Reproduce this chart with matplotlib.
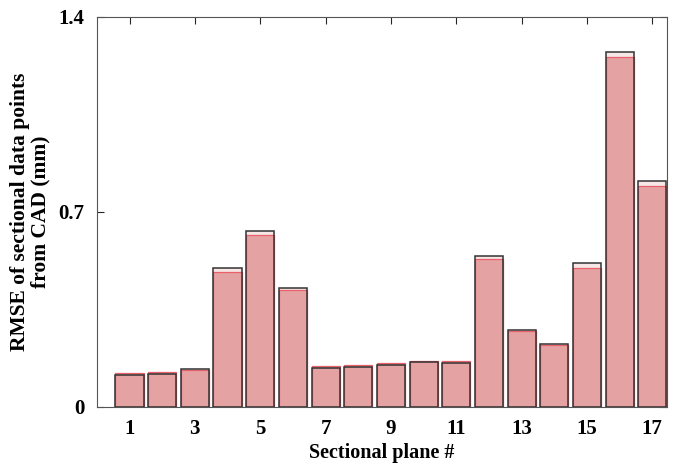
import numpy as np
import matplotlib.pyplot as plt

plt.rcParams['font.family'] = ['Liberation Serif', 'DejaVu Serif']
plt.rcParams['font.weight'] = 'bold'

# Sectional planes and RMSE values (mm)
planes = np.arange(1, 18)
rmse_a = [0.115, 0.117, 0.135, 0.498, 0.632, 0.426, 0.139, 0.142, 0.151,
          0.162, 0.157, 0.540, 0.274, 0.226, 0.516, 1.272, 0.812]
rmse_b = [0.121, 0.124, 0.133, 0.483, 0.617, 0.420, 0.145, 0.151, 0.157,
          0.165, 0.165, 0.530, 0.272, 0.222, 0.498, 1.257, 0.791]
xtick_vals = [1, 3, 5, 7, 9, 11, 13, 15, 17]
ytick_vals = [0, 0.7, 1.4]
ytick_labels = ['0', '0.7', '1.4']

fig = plt.figure(figsize=(6.82, 4.66), dpi=100)
ax = fig.add_axes([0.142, 0.127, 0.836, 0.837])

w = 0.86
ax.bar(planes, rmse_a, width=w, color='#F6E6E6', edgecolor='none', zorder=2)
ax.bar(planes, rmse_b, width=w, color='#E5A2A2', edgecolor='#E8606A',
       linewidth=0.9, zorder=3)
ax.bar(planes, rmse_a, width=w, fill=False, edgecolor='#333333',
       linewidth=1.1, zorder=4)

ax.set_xlim(0, 17.45)
ax.set_ylim(0, 1.4)
ax.set_xticks(xtick_vals)
ax.set_yticks(ytick_vals)
ax.set_yticklabels(ytick_labels)
ax.tick_params(direction='in', top=True, right=True, labelsize=15,
               length=5, width=0.8, colors='#262626', pad=9)
for lbl in ax.get_xticklabels() + ax.get_yticklabels():
    lbl.set_color('black')
for s in ax.spines.values():
    s.set_color('#555555')
    s.set_linewidth(0.8)

ax.set_xlabel('Sectional plane #', fontsize=14.5, fontweight='bold', labelpad=3)
ax.set_ylabel('RMSE of sectional data points\nfrom CAD (mm)', fontsize=15.5,
              fontweight='bold', labelpad=6, linespacing=1.0)

fig.savefig('out.png', dpi=100)
